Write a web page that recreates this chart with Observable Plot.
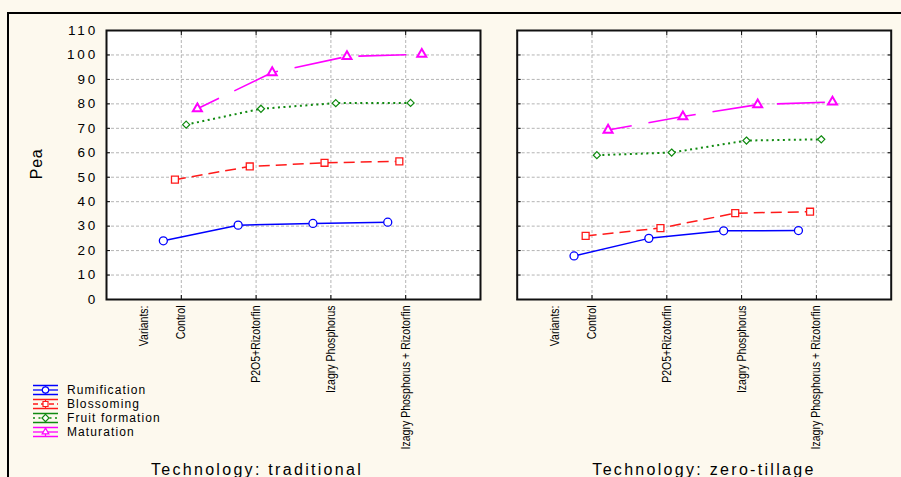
<!DOCTYPE html>
<html><head><meta charset="utf-8">
<script src="https://cdn.jsdelivr.net/npm/d3@7"></script>
<script src="https://cdn.jsdelivr.net/npm/@observablehq/plot@0.6"></script>
<style>
html,body{margin:0;padding:0;background:#fdf9ee;}
#wrap{position:relative;width:901px;height:477px;overflow:hidden;background:#fdf9ee;font-family:"Liberation Sans",Arial,sans-serif;color:#000;}
#border{position:absolute;left:7px;top:12px;width:1000px;height:1000px;border-left:2px solid #000;border-top:2px solid #000;box-sizing:border-box}
.panel{position:absolute;top:0}
.ftitle{position:absolute;top:461px;font-size:16px;letter-spacing:2.3px;width:400px;text-align:center;line-height:18px;white-space:nowrap}
#ylab{position:absolute;left:37px;top:164px;transform:translate(-50%,-50%) rotate(-90deg);font-size:16px;letter-spacing:0.6px}
#legend{position:absolute;left:33px;top:383px;}
.lrow{display:flex;align-items:center;height:14px;}
.lrow span{margin-left:8px;font-size:12px;letter-spacing:1.1px;line-height:14px}
</style></head><body>
<div id="wrap">
  <div id="border"></div>
  <div id="p0" class="panel" style="left:0px"></div>
  <div id="p1" class="panel" style="left:480px"></div>
  <div id="ylab">Pea</div>
  <div id="legend"></div>
  <div class="ftitle" id="t0" style="left:57px"></div>
  <div class="ftitle" id="t1" style="left:504px"></div>
</div>
<script>
// ---- data ----
const categories = ["Control", "P2O5+Rizotorfin", "Izagry Phosphorus", "Izagry Phosphorus + Rizotorfin"];
const technologies = ["traditional", "zero-tillage"];
const series = ["Rumification", "Blossoming", "Fruit formation", "Maturation"];
const yTicks = [0, 10, 20, 30, 40, 50, 60, 70, 80, 90, 100, 110];

const rumTraditional   = [24.0, 30.4, 31.1, 31.6];
const blosTraditional  = [49.0, 54.4, 55.9, 56.5];
const fruitTraditional = [71.5, 78.0, 80.3, 80.4];
const matTraditional   = [78.0, 92.8, 99.4, 100.3];

const rumZero   = [17.8, 25.0, 28.1, 28.2];
const blosZero  = [26.0, 29.2, 35.3, 35.9];
const fruitZero = [59.0, 60.1, 65.0, 65.5];
const matZero   = [69.3, 74.8, 79.7, 80.8];

const valuesByTech = {
  "traditional": [rumTraditional, blosTraditional, fruitTraditional, matTraditional],
  "zero-tillage": [rumZero, blosZero, fruitZero, matZero]
};

const rows = [];
technologies.forEach(t => series.forEach((s, si) => categories.forEach((c, ci) => {
  rows.push({tech: t, series: s, variant: c, value: valuesByTech[t][si][ci]});
})));

// ---- styles ----
const styles = {
  "Rumification":    {color: "#0000ff", dash: null,    offset: 0,  symbol: "circle",   r: 4,   sw: 1.5, msw: 1.3, dodge: -0.24},
  "Blossoming":      {color: "#ff1a1a", dash: "11,6",  offset: 0,  symbol: "square2",  r: 4.4, sw: 1.5, msw: 1.3, dodge: -0.085},
  "Fruit formation": {color: "#108a10", dash: "2,3.5", offset: 0,  symbol: "diamond2", r: 3.2, sw: 2,   msw: 1.2, dodge: 0.065},
  "Maturation":      {color: "#ff00ff", dash: "48,17", offset: 24, symbol: "triangle2",r: 4.3, sw: 1.6, msw: 2,   dodge: 0.215}
};
const xPos = d => categories.indexOf(d.variant) + 1 + styles[d.series].dodge;
const xLabelTexts = new Set([...categories, "Variants:"]);
const yLabelTexts = new Set(yTicks.map(String));

function panel(tech, idx) {
  const data = rows.filter(d => d.tech === tech);
  const marks = [
    Plot.frame({fill: "white", stroke: null}),
    Plot.gridY(yTicks.slice(1, -1), {stroke: "#b5b5b5", strokeOpacity: 1, strokeDasharray: "3,2", strokeWidth: 1}),
    Plot.gridX([1, 2, 3, 4], {stroke: "#b5b5b5", strokeOpacity: 1, strokeDasharray: "3,2", strokeWidth: 1}),
  ];
  series.forEach(s => {
    const st = styles[s];
    const sd = data.filter(d => d.series === s);
    marks.push(Plot.line(sd, {x: xPos, y: "value", stroke: st.color, strokeWidth: st.sw,
      strokeDasharray: st.dash, strokeDashoffset: st.offset, strokeLinecap: "butt"}));
  });
  series.forEach(s => {
    const st = styles[s];
    const sd = data.filter(d => d.series === s);
    marks.push(Plot.dot(sd, {x: xPos, y: "value", symbol: () => st.symbol, r: st.r, stroke: st.color, fill: "white", strokeWidth: st.msw}));
  });
  marks.push(
    Plot.axisY(yTicks, {anchor: "left", tickSize: -4, tickFormat: () => "", label: null, stroke: "#000"}),
    Plot.axisY(yTicks, {anchor: "right", tickSize: -4, tickFormat: () => "", label: null, stroke: "#000"}),
    Plot.axisX([1, 2, 3, 4], {anchor: "top", tickSize: -4, tickFormat: () => "", label: null, stroke: "#000"}),
    Plot.axisX([1, 2, 3, 4], {anchor: "bottom", tickSize: -4, tickFormat: () => "", label: null, stroke: "#000"}),
    Plot.axisX([1, 2, 3, 4], {anchor: "bottom", tickSize: 0, tickPadding: 6, tickRotate: -90, label: null,
      tickFormat: i => categories[i - 1]}),
    Plot.axisX([0.5], {anchor: "bottom", tickSize: 0, tickPadding: 6, tickRotate: -90, label: null,
      tickFormat: () => "Variants:"}),
    Plot.frame({stroke: "#111", strokeWidth: 2})
  );
  if (idx === 0) {
    marks.push(Plot.axisY(yTicks, {anchor: "left", tickSize: 0, tickPadding: 8.5, label: null}));
  }
  const svg = Plot.plot({
    width: idx === 0 ? 490 : 421,
    height: 460,
    marginLeft: idx === 0 ? 106 : 36.7,
    marginRight: idx === 0 ? 10 : 10.3,
    marginTop: 30,
    marginBottom: 161,
    x: {domain: [0, 5]},
    y: {domain: [0, 110]},
    style: {background: "transparent", overflow: "visible", fontFamily: "Liberation Sans, Arial, sans-serif", color: "#000"},
    marks
  });
  return svg;
}

technologies.forEach((t, i) => {
  const svg = panel(t, i);
  document.getElementById("p" + i).appendChild(svg);
  document.getElementById("t" + i).textContent = "Technology: " + t;
  svg.querySelectorAll("text").forEach(el => {
    const txt = el.textContent;
    if (yLabelTexts.has(txt)) {
      el.style.fontSize = "13.5px";
      el.style.letterSpacing = "2.8px";
    } else if (xLabelTexts.has(txt)) {
      el.style.fontSize = "12.5px";
      const len = el.getComputedTextLength();
      el.setAttribute("textLength", (len * 0.84).toFixed(1));
      el.setAttribute("lengthAdjust", "spacingAndGlyphs");
    }
  });
});

// ---- legend ----
const legend = d3.select("#legend");
series.forEach(s => {
  const st = styles[s];
  const row = legend.append("div").attr("class", "lrow");
  const g = row.append("svg").attr("width", 26).attr("height", 14).append("g");
  g.append("line").attr("x1", 0).attr("x2", 25).attr("y1", 2.5).attr("y2", 2.5).attr("stroke", st.color).attr("stroke-width", 1.5);
  g.append("line").attr("x1", 0).attr("x2", 25).attr("y1", 11.5).attr("y2", 11.5).attr("stroke", st.color).attr("stroke-width", 1.5);
  g.append("line").attr("x1", 12.5).attr("x2", 12.5).attr("y1", 2.5).attr("y2", 11.5).attr("stroke", st.color).attr("stroke-width", 1.2);
  g.append("line").attr("x1", 0).attr("x2", 25).attr("y1", 7).attr("y2", 7).attr("stroke", st.color).attr("stroke-width", 1.3)
    .attr("stroke-dasharray", s === "Maturation" ? null : (s === "Blossoming" ? "5,3" : st.dash));
  const sym = {circle: d3.symbolCircle, square2: d3.symbolSquare2, diamond2: d3.symbolDiamond2, triangle2: d3.symbolTriangle2}[st.symbol];
  g.append("path").attr("transform", "translate(12.5,7)").attr("d", d3.symbol(sym, Math.PI * 3.2 * 3.2)())
    .attr("fill", "white").attr("stroke", st.color).attr("stroke-width", 1.2);
  row.append("span").text(s);
});
</script>
</body></html>
